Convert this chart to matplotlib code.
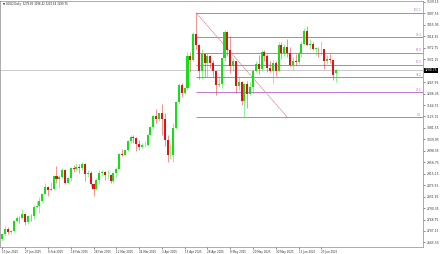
import pandas as pd
from matplotlib import pyplot as plt
from matplotlib.transforms import blended_transform_factory

symbol = 'GOLD,Daily'
header_ohlc = ['3279.85', '3296.42', '3247.64', '3290.75']

# daily bars, broker closed on Good Friday
bar_dates = pd.bdate_range('2025-01-15', '2025-06-30', freq='C', holidays=['2025-04-18'])

opens = [
    2677, 2697, 2714, 2702, 2708, 2744, 2755, 2754, 2770, 2740, 2763, 2760, 2794,
    2798, 2815, 2842, 2867, 2856, 2861, 2908, 2897, 2905, 2928, 2882, 2898, 2935, 2933, 2939, 2936, 2952, 2915, 2916, 2876,
    2858, 2893, 2918, 2920, 2910, 2911, 2889, 2916, 2934, 2988, 2984, 3001, 3034, 3049, 3044, 3023, 3011, 3019, 3020, 3057, 3085,
    3124, 3113, 3134, 3114, 3037, 2982, 2984, 3083, 3175, 3237, 3210, 3226, 3343, 3327, 3424, 3381, 3288, 3349, 3319, 3344, 3317,
    3288, 3239, 3240, 3334, 3431, 3366, 3305, 3325, 3235, 3248, 3178, 3240, 3205, 3230, 3289, 3314, 3294, 3357, 3342, 3301, 3289, 3318,
    3289, 3381, 3353, 3374, 3352, 3310, 3326, 3322, 3354, 3386, 3432, 3384, 3388, 3369, 3370, 3368, 3369, 3323, 3332, 3327, 3279.85,
]
highs = [
    2700, 2724, 2720, 2711, 2746, 2763, 2760, 2786, 2772, 2765, 2770, 2800, 2817,
    2830, 2845, 2882, 2870, 2886, 2911, 2942, 2910, 2935, 2932, 2905, 2938, 2947, 2954, 2950, 2956, 2955, 2927, 2925, 2880,
    2900, 2928, 2930, 2925, 2929, 2915, 2922, 2940, 2990, 3005, 3001, 3038, 3057, 3057, 3047, 3036, 3025, 3033, 3060, 3087, 3128,
    3149, 3135, 3168, 3136, 3055, 3022, 3099, 3175, 3245, 3245, 3230, 3358, 3357, 3430, 3500, 3386, 3367, 3352, 3352, 3345, 3328,
    3290, 3269, 3336, 3437, 3435, 3414, 3336, 3325, 3265, 3252, 3240, 3252, 3250, 3296, 3325, 3346, 3366, 3365, 3350, 3325, 3330, 3325,
    3392, 3392, 3385, 3403, 3375, 3340, 3349, 3360, 3398, 3446, 3452, 3403, 3394, 3375, 3375, 3398, 3370, 3346, 3350, 3328, 3296.42,
]
lows = [
    2672, 2689, 2697, 2696, 2703, 2741, 2735, 2750, 2730, 2733, 2745, 2752, 2790,
    2772, 2810, 2840, 2834, 2853, 2860, 2880, 2864, 2900, 2877, 2881, 2890, 2922, 2925, 2918, 2930, 2890, 2902, 2871, 2833,
    2856, 2879, 2906, 2894, 2897, 2880, 2880, 2905, 2932, 2978, 2982, 2998, 3025, 3025, 2999, 3002, 3009, 3011, 3016, 3054, 3076,
    3101, 3105, 3054, 3015, 2957, 2970, 2957, 3076, 3170, 3194, 3205, 3220, 3283, 3325, 3367, 3260, 3260, 3265, 3268, 3300, 3268,
    3202, 3229, 3225, 3325, 3343, 3282, 3288, 3207, 3219, 3165, 3121, 3153, 3200, 3205, 3285, 3278, 3287, 3325, 3285, 3285, 3245, 3271,
    3289, 3333, 3343, 3339, 3307, 3293, 3310, 3315, 3339, 3384, 3383, 3367, 3363, 3347, 3340, 3347, 3295, 3312, 3318, 3255, 3247.64,
]
closes = [
    2697, 2714, 2702, 2708, 2744, 2755, 2754, 2770, 2740, 2763, 2760, 2794, 2798,
    2815, 2842, 2867, 2856, 2861, 2908, 2897, 2905, 2928, 2882, 2898, 2935, 2933, 2939, 2936, 2952, 2915, 2916, 2876, 2858,
    2893, 2918, 2920, 2910, 2911, 2889, 2916, 2934, 2988, 2984, 3001, 3034, 3049, 3044, 3023, 3011, 3019, 3020, 3057, 3085, 3124,
    3113, 3134, 3114, 3037, 2982, 2984, 3083, 3175, 3237, 3210, 3226, 3343, 3327, 3424, 3381, 3288, 3349, 3319, 3344, 3317, 3288,
    3239, 3240, 3334, 3431, 3366, 3305, 3325, 3235, 3248, 3178, 3240, 3205, 3230, 3289, 3314, 3294, 3357, 3342, 3301, 3289, 3318, 3289,
    3381, 3353, 3374, 3352, 3310, 3326, 3322, 3354, 3386, 3432, 3384, 3388, 3369, 3370, 3368, 3369, 3323, 3332, 3327, 3273, 3290.75,
]

price_ticks = [2665.55, 2707.15, 2748.75, 2790.35, 2831.95, 2873.55, 2915.15, 2956.75,
               2998.35, 3039.95, 3081.55, 3123.15, 3164.75, 3206.35, 3247.95, 3289.55,
               3331.15, 3372.75, 3414.35, 3455.95, 3497.55, 3539.15]

# fibo retracement drawn from the April top to the May low
fib_levels = [0.0, 23.6, 38.2, 50.0, 61.8, 76.4, 100.0]
fib_high = 3500.0
fib_low = 3121.0
fib_start = '2025-04-22'
fib_end = '2025-06-05'

bull = '#14e014'
bear = '#e01414'
fib_color = '#bf7bd6'

fig = plt.figure(figsize=(4.4, 2.54), dpi=100)
ax = fig.add_axes([0.0, 7 / 254, 423 / 440, 246 / 254])

for i in range(len(closes)):
    o, h, l, c = opens[i], highs[i], lows[i], closes[i]
    col = bull if c >= o else bear
    ax.vlines(i, l, h, color=col, lw=0.4, alpha=0.8, zorder=2)
    ax.bar(i, max(abs(c - o), 1.2), bottom=min(o, c), width=0.72, color=col, lw=0, zorder=3)

# bid line
ax.axhline(closes[-1], color='#b4b4b4', lw=0.5, zorder=1)

# fibo levels + trend line
x0 = bar_dates.get_loc(pd.Timestamp(fib_start))
x1 = bar_dates.get_loc(pd.Timestamp(fib_end))
right_edge = 147.7
for lvl in fib_levels:
    p = fib_low + (fib_high - fib_low) * lvl / 100
    ln = ax.hlines(p, x0, right_edge, color=fib_color, lw=0.72, zorder=1.5)
    ln.set_snap(True)
    ax.text(right_edge - 0.6, p + 1.5, f'{lvl:.1f}', ha='right', va='bottom',
            fontsize=1.9, color=fib_color)
ax.plot([x0, x1], [fib_high, fib_low], color='#d98282', lw=0.55, ls=(0, (2, 0.6)),
        zorder=1.6)

ax.set_xlim(-0.84, right_edge)
ax.set_ylim(2648.9, 3542.6)

ax.yaxis.tick_right()
ax.set_yticks(price_ticks)
# the tick under the price tag is hidden by the tag, as on the terminal
ax.set_yticklabels(['' if abs(v - closes[-1]) < 5 else f'{v:.2f}' for v in price_ticks])
ax.tick_params(axis='y', length=1.5, width=0.4, pad=1.0, labelsize=2.2,
               colors='#333333')

tick_idx = list(range(0, len(bar_dates), 8))
ax.set_xticks(tick_idx)
ax.set_xticklabels([f'{bar_dates[k].day} {bar_dates[k]:%b %Y}' for k in tick_idx],
                   ha='left')
ax.tick_params(axis='x', length=1.5, width=0.4, pad=0.8, labelsize=2.0,
               colors='#333333')

for s in ax.spines.values():
    s.set_color('#8c8c8c')
    s.set_linewidth(0.5)

ax.text(0.008, 0.995, '\u25bc ' + symbol + '  ' + ' '.join(header_ohlc),
        transform=ax.transAxes, ha='left', va='top', fontsize=1.9, color='#222222')

# current price tag on the scale
tr = blended_transform_factory(ax.transAxes, ax.transData)
ax.text(1.004, closes[-1], f'{closes[-1]:.2f}', transform=tr, ha='left', va='center',
        fontsize=2.2, color='white', zorder=10, clip_on=False,
        bbox=dict(boxstyle='square,pad=0.25', fc='black', ec='none'))

fig.savefig('out.png', dpi=100)
